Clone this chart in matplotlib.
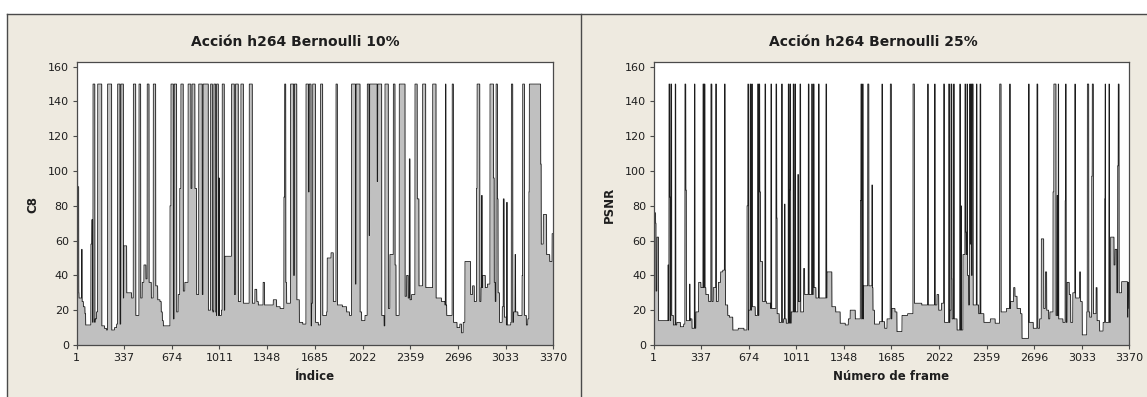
import numpy as np
import matplotlib
matplotlib.use("Agg")
import matplotlib.pyplot as plt
from matplotlib.patches import Rectangle
from matplotlib.lines import Line2D

N = 3370
x_ticks = [1, 337, 674, 1011, 1348, 1685, 2022, 2359, 2696, 3033, 3370]
y_ticks = [0, 20, 40, 60, 80, 100, 120, 140, 160]

titles = ["Acción h264 Bernoulli 10%", "Acción h264 Bernoulli 25%"]
x_labels = ["Índice", "Número de frame"]
y_labels = ["C8", "PSNR"]

# Panel 1: underlying level (index, value), held until the next index
left_level = [
    (1, 30), (19, 27), (38, 25), (50, 22), (61, 18), (66, 11.5), (103, 13), (132, 15),
    (143, 19), (160, 17), (179, 11), (200, 9.5), (214, 8.6), (249, 8.6), (270, 10),
    (285, 12), (332, 27), (355, 30), (391, 27), (419, 17), (454, 27), (466, 36),
    (478, 46), (492, 38), (513, 36), (530, 27), (544, 19), (560, 34), (575, 26),
    (591, 25), (600, 19), (608, 14), (615, 11), (662, 17), (685, 15), (708, 19),
    (720, 29), (740, 31), (767, 36), (790, 34), (809, 30), (840, 29), (865, 30),
    (884, 29), (932, 20), (965, 19), (990, 17), (1026, 20), (1050, 51), (1097, 29),
    (1144, 25), (1180, 24), (1262, 32), (1275, 25), (1286, 23), (1320, 36), (1330, 23),
    (1392, 26), (1415, 22), (1440, 21), (1474, 36), (1486, 24), (1552, 26), (1576, 13),
    (1600, 12), (1623, 11), (1663, 24), (1686, 13), (1710, 11.5), (1740, 17), (1769, 19),
    (1773, 50), (1800, 53), (1816, 25), (1844, 23), (1880, 22), (1910, 19), (1930, 17),
    (2004, 19), (2016, 14), (2040, 17), (2157, 17), (2175, 11), (2193, 21), (2216, 52),
    (2240, 21), (2251, 46), (2259, 17), (2322, 28), (2334, 40), (2345, 27), (2357, 26),
    (2369, 29), (2409, 34), (2440, 34), (2468, 33), (2520, 29), (2541, 27), (2580, 25),
    (2605, 23), (2617, 17), (2664, 13), (2690, 10), (2710, 12), (2722, 7), (2734, 13),
    (2746, 48), (2786, 29), (2800, 34), (2812, 25), (2860, 33), (2870, 40), (2890, 33),
    (2905, 35), (2950, 36), (2960, 25), (2975, 30), (2990, 13), (3010, 22), (3025, 16),
    (3040, 11.5), (3070, 13), (3090, 19), (3120, 17), (3150, 40), (3166, 17),
    (3180, 11.5), (3190, 15), (3285, 58), (3300, 75), (3323, 52), (3345, 48),
    (3362, 64),
]

# Panel 1: bursts (first index, last index, value)
left_bursts = [
    (1, 8, 150), (9, 16, 91), (38, 40, 55), (103, 108, 58), (109, 115, 72), (118, 130, 150),
    (151, 179, 150), (221, 249, 150), (292, 308, 150), (315, 332, 150), (336, 355, 57),
    (403, 419, 150), (443, 454, 150), (501, 513, 150), (544, 560, 150), (662, 668, 80),
    (669, 685, 150), (692, 708, 150), (731, 738, 90), (739, 755, 150), (809, 849, 90),
    (790, 809, 150), (818, 837, 150), (865, 889, 150), (896, 932, 150), (949, 961, 150),
    (972, 984, 150), (991, 1003, 150), (1008, 1010, 96), (1031, 1045, 150),
    (1097, 1116, 150), (1125, 1144, 150), (1163, 1180, 150), (1222, 1243, 150),
    (1467, 1471, 85), (1472, 1479, 150), (1514, 1535, 150), (1536, 1540, 40),
    (1541, 1557, 150), (1623, 1640, 150), (1641, 1645, 88), (1646, 1658, 150),
    (1670, 1689, 150), (1726, 1740, 150), (1835, 1844, 150), (1945, 1972, 150),
    (1973, 1976, 35), (1977, 2004, 150), (2056, 2068, 150), (2069, 2072, 63),
    (2073, 2125, 150), (2126, 2129, 94), (2130, 2157, 150), (2181, 2204, 150),
    (2240, 2251, 150), (2282, 2322, 150), (2353, 2357, 107), (2393, 2408, 150),
    (2409, 2420, 84), (2447, 2468, 150), (2518, 2541, 150), (2608, 2611, 150),
    (2656, 2664, 150), (2828, 2831, 90), (2832, 2850, 150), (2864, 2867, 86),
    (2923, 2947, 150), (2948, 2952, 96), (2966, 2975, 150), (2976, 2979, 84),
    (3017, 3022, 84), (3041, 3044, 82), (3074, 3083, 150), (3100, 3103, 52),
    (3154, 3166, 150), (3198, 3200, 88), (3201, 3280, 150), (3281, 3284, 104),
]

# Panel 2: underlying level (index, value)
right_level = [
    (1, 76), (14, 70), (17, 31), (24, 62), (35, 14), (125, 17), (140, 11.5), (165, 13),
    (190, 10.5), (213, 12), (232, 14), (260, 15), (272, 9.6), (300, 19), (319, 36),
    (335, 33), (370, 29), (390, 25), (423, 33), (440, 25), (459, 36), (475, 42),
    (490, 43), (509, 23), (525, 17), (537, 16), (561, 8.6), (600, 9.6), (640, 8.6),
    (674, 20), (697, 22), (720, 17), (756, 48), (772, 25), (800, 24), (830, 21),
    (874, 18), (890, 13), (921, 15), (940, 12.5), (975, 19), (1022, 25), (1040, 19),
    (1063, 44), (1070, 29), (1134, 33), (1150, 27), (1228, 42), (1263, 22), (1290, 19),
    (1322, 12.5), (1358, 11.5), (1380, 15), (1393, 20), (1429, 15), (1488, 34),
    (1547, 33), (1554, 20), (1565, 12), (1600, 13.4), (1637, 9.6), (1654, 15),
    (1689, 21), (1710, 19), (1724, 7.7), (1760, 17), (1800, 18), (1847, 24), (1900, 23),
    (2008, 29), (2020, 20), (2040, 24), (2060, 13), (2100, 20), (2109, 38), (2115, 15),
    (2150, 8.6), (2192, 52), (2220, 40), (2232, 23), (2303, 18), (2340, 13), (2386, 15),
    (2420, 12.5), (2461, 19), (2500, 21), (2528, 25), (2551, 33), (2560, 28), (2575, 21),
    (2600, 18), (2610, 3.8), (2657, 13), (2690, 9.6), (2735, 15), (2747, 61), (2764, 21),
    (2776, 42), (2785, 20), (2799, 15), (2808, 19), (2851, 17), (2870, 15), (2900, 13),
    (2930, 36), (2945, 29), (2955, 13), (2970, 30), (2990, 27), (3018, 42), (3025, 25),
    (3037, 5.8), (3069, 19), (3090, 16), (3116, 18), (3135, 33), (3142, 14),
    (3160, 8), (3185, 13), (3238, 62), (3262, 46), (3270, 55), (3282, 30),
    (3316, 36.4), (3358, 16), (3362, 36), (3368, 21),
]

# Panel 2: bursts (first index, last index, value)
right_bursts = [
    (102, 104, 46), (109, 113, 150), (114, 117, 85), (122, 127, 150), (153, 156, 150),
    (222, 227, 150), (228, 231, 89), (255, 257, 35), (289, 292, 150), (350, 354, 150),
    (358, 363, 150), (406, 412, 150), (440, 444, 150), (502, 506, 150), (662, 667, 80),
    (668, 671, 150), (684, 688, 150), (695, 699, 150), (737, 742, 150), (747, 751, 150),
    (752, 756, 88), (789, 793, 150), (831, 835, 150), (867, 871, 150), (872, 874, 73),
    (907, 911, 150), (928, 930, 81), (954, 958, 150), (962, 965, 89), (966, 970, 150),
    (989, 993, 150), (1001, 1005, 150), (1022, 1025, 98), (1037, 1041, 150),
    (1096, 1100, 150), (1120, 1124, 150), (1132, 1136, 150), (1168, 1172, 150),
    (1221, 1225, 150), (1465, 1468, 83), (1469, 1473, 150), (1480, 1484, 150),
    (1517, 1524, 150), (1547, 1549, 92), (1618, 1620, 150), (1677, 1684, 150),
    (1838, 1847, 150), (1942, 1945, 150), (1991, 1994, 150), (2055, 2060, 150),
    (2091, 2095, 150), (2107, 2112, 150), (2126, 2129, 150), (2170, 2172, 150),
    (2178, 2180, 80), (2206, 2209, 150), (2210, 2213, 65), (2220, 2223, 150),
    (2239, 2243, 150), (2244, 2247, 58), (2248, 2252, 150), (2253, 2256, 40),
    (2257, 2263, 150), (2287, 2290, 150), (2313, 2317, 150), (2452, 2461, 150),
    (2523, 2526, 150), (2657, 2660, 150), (2716, 2721, 150), (2830, 2835, 88),
    (2836, 2850, 150), (2859, 2862, 86), (2867, 2869, 150), (2916, 2918, 83),
    (2919, 2922, 150), (2985, 2987, 150), (3073, 3082, 150), (3104, 3107, 97),
    (3108, 3115, 150), (3196, 3198, 84), (3199, 3201, 150), (3226, 3229, 150),
    (3288, 3291, 103), (3292, 3297, 150),
]


def build_series(level, bursts):
    idx = np.arange(1, N + 1)
    kx = np.array([k[0] for k in level])
    kv = np.array([k[1] for k in level], dtype=float)
    y = kv[np.searchsorted(kx, idx, side="right") - 1]
    for first, last, val in bursts:
        y[(idx >= first) & (idx <= last)] = val
    return idx, y


W, H = 1147, 397
fig = plt.figure(figsize=(W / 100, H / 100), dpi=100)
fig.patch.set_facecolor("white")

BG = "#eeeae0"
EDGE = "#4a4a4a"
TXT = "#1e1e1e"

# framed panel background
fig.patches.append(Rectangle((7 / W, 0), 1 - 7 / W, 1 - 14 / H, transform=fig.transFigure,
                             facecolor=BG, edgecolor="none", zorder=-10))
for xs, ys in [([7 / W, 1], [1 - 14 / H, 1 - 14 / H]),
               ([7 / W, 7 / W], [0, 1 - 14 / H]),
               ([581 / W, 581 / W], [0, 1 - 14 / H])]:
    fig.lines.append(Line2D(xs, ys, transform=fig.transFigure, color=EDGE, lw=1.0,
                            zorder=-5))

panels = [
    dict(left=76.5, width=476.8, level=left_level, bursts=left_bursts,
         title_x=295, ylab_x=33),
    dict(left=653.8, width=475.5, level=right_level, bursts=right_bursts,
         title_x=873, ylab_x=609),
]

ax_top, ax_bottom = 62, 345
for i, p in enumerate(panels):
    ax = fig.add_axes([p["left"] / W, 1 - ax_bottom / H, p["width"] / W,
                       (ax_bottom - ax_top) / H])
    ax.set_zorder(5)
    ax.set_facecolor("white")
    idx, y = build_series(p["level"], p["bursts"])
    ax.fill_between(idx, 0, y, color="#c0c0c0", lw=0, zorder=1)
    ax.plot(idx, y, color="#1c1c1c", lw=0.6, zorder=2)
    ax.set_xlim(1, N)
    ax.set_ylim(0, 162.7)
    ax.set_xticks(x_ticks)
    ax.set_yticks(y_ticks)
    ax.tick_params(direction="out", length=3, width=0.8, color=EDGE,
                   labelsize=8, labelcolor=TXT, pad=2.5)
    for s in ax.spines.values():
        s.set_color(EDGE)
        s.set_linewidth(0.9)

    fig.text(p["title_x"] / W, 1 - 42 / H, titles[i], ha="center", va="center",
             fontsize=10, fontweight="bold", color=TXT)
    fig.text((p["left"] + p["width"] / 2) / W, 1 - 376 / H, x_labels[i], ha="center",
             va="center", fontsize=8.5, fontweight="bold", color=TXT)
    fig.text(p["ylab_x"] / W, 1 - 205 / H, y_labels[i], ha="center", va="center",
             rotation=90, fontsize=8.5, fontweight="bold", color=TXT)

fig.savefig("out.png", dpi=100, facecolor=fig.get_facecolor())
